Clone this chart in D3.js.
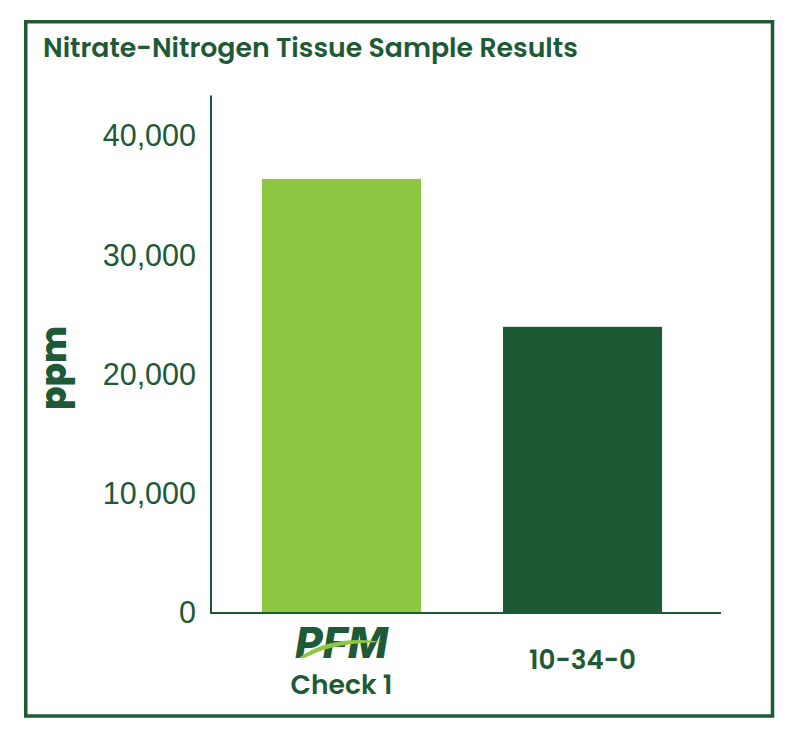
<!DOCTYPE html>
<html>
<head>
<meta charset="utf-8">
<script src="https://cdn.jsdelivr.net/npm/d3@7/dist/d3.min.js"></script>
<style>
  html, body { margin: 0; padding: 0; background: #fff; }
  svg { display: block; }
</style>
</head>
<body>
<svg id="chart" width="800" height="739"></svg>
<script>
// ---- data ----
const categories = ["PFM Check 1", "10-34-0"];
const values = [36400, 24000];
const barColors = ["#8dc641", "#1d5835"];
const tickValues = [0, 10000, 20000, 30000, 40000];
const yAxisMax = 43400;
const title = "Nitrate-Nitrogen Tissue Sample Results";
const yAxisTitle = "ppm";

// ---- layout ----
const dark = "#1e5a36";
const plot = { left: 211, right: 721, top: 95, bottom: 613 };

const svg = d3.select("#chart");

// frame
svg.append("rect")
  .attr("x", 25.75).attr("y", 21.75)
  .attr("width", 772.5 - 25.75).attr("height", 716 - 21.75)
  .attr("fill", "none").attr("stroke", dark).attr("stroke-width", 3.5);

function fit(sel, width) {
  const len = sel.node().getComputedTextLength();
  const fs = parseFloat(sel.attr("font-size"));
  sel.attr("font-size", fs * width / len);
}

// title
const t = svg.append("text")
  .attr("x", 43).attr("y", 57)
  .attr("font-family", "Poppins, Inter, 'Open Sans', sans-serif")
  .attr("font-weight", 600).attr("font-size", 22)
  .attr("fill", dark).text(title);
fit(t, 535);

// scales
const x = d3.scaleBand()
  .domain(categories)
  .range([plot.left, plot.right])
  .paddingInner(0.34).paddingOuter(0.228).align(0.4636);

const y = d3.scaleLinear()
  .domain([0, 40000])
  .range([plot.bottom, 136]);

// bars
svg.append("g").selectAll("rect")
  .data(categories)
  .join("rect")
  .attr("x", d => x(d))
  .attr("width", x.bandwidth())
  .attr("y", (d, i) => y(values[i]))
  .attr("height", (d, i) => y(0) - y(values[i]))
  .attr("fill", (d, i) => barColors[i]);

// y axis
const yAxis = d3.axisLeft(y)
  .tickValues(tickValues)
  .tickSize(0)
  .tickPadding(15)
  .tickFormat(d3.format(","));
const gy = svg.append("g")
  .attr("transform", `translate(${plot.left},0)`)
  .call(yAxis);
gy.select(".domain").remove();
gy.selectAll("text")
  .attr("font-family", "'Liberation Sans', Arial, sans-serif")
  .attr("font-size", 30.5)
  .attr("fill", dark);
svg.append("line")
  .attr("x1", plot.left).attr("x2", plot.left)
  .attr("y1", y(yAxisMax)).attr("y2", plot.bottom + 1)
  .attr("stroke", dark).attr("stroke-width", 2);

// x axis
const gx = svg.append("g")
  .attr("transform", `translate(0,${plot.bottom})`)
  .call(d3.axisBottom(x).tickSize(0).tickFormat(""));
gx.select(".domain").remove();
svg.append("line")
  .attr("x1", plot.left).attr("x2", plot.right)
  .attr("y1", plot.bottom).attr("y2", plot.bottom)
  .attr("stroke", dark).attr("stroke-width", 2);

// x labels
const c0 = x(categories[0]) + x.bandwidth() / 2;
const c1 = x(categories[1]) + x.bandwidth() / 2;

// PFM logo + "Check 1"
const logo = svg.append("text")
  .attr("x", c0).attr("y", 658)
  .attr("text-anchor", "middle")
  .attr("fill", dark)
  .attr("font-family", "Inter, 'Open Sans', sans-serif")
  .attr("font-weight", 800).attr("font-style", "italic")
  .attr("font-size", 38)
  .text("PFM");
fit(logo, 93);
svg.append("path")
  .attr("d", `M ${c0-43} 658 C ${c0-20} 641, ${c0+10} 637, ${c0+41} 642 C ${c0+10} 643, ${c0-15} 646, ${c0-37} 658 Z`)
  .attr("fill", "#8dc641");
const chk = svg.append("text")
  .attr("x", c0).attr("y", 694)
  .attr("text-anchor", "middle")
  .attr("fill", dark)
  .attr("font-family", "Poppins, Inter, 'Open Sans', sans-serif")
  .attr("font-weight", 600).attr("font-size", 22)
  .text("Check 1");
fit(chk, 102);

const l2 = svg.append("text")
  .attr("x", c1).attr("y", 669)
  .attr("text-anchor", "middle")
  .attr("font-family", "Poppins, Inter, 'Open Sans', sans-serif")
  .attr("font-weight", 600).attr("font-size", 22)
  .attr("fill", dark).text(categories[1]);
fit(l2, 107);

// y axis title
const yt = svg.append("text")
  .attr("transform", `translate(66,368) rotate(-90)`)
  .attr("text-anchor", "middle")
  .attr("font-family", "Poppins, Inter, 'Open Sans', sans-serif")
  .attr("font-weight", 800).attr("font-size", 38)
  .attr("fill", dark).text(yAxisTitle);
fit(yt, 84);
</script>
</body>
</html>
